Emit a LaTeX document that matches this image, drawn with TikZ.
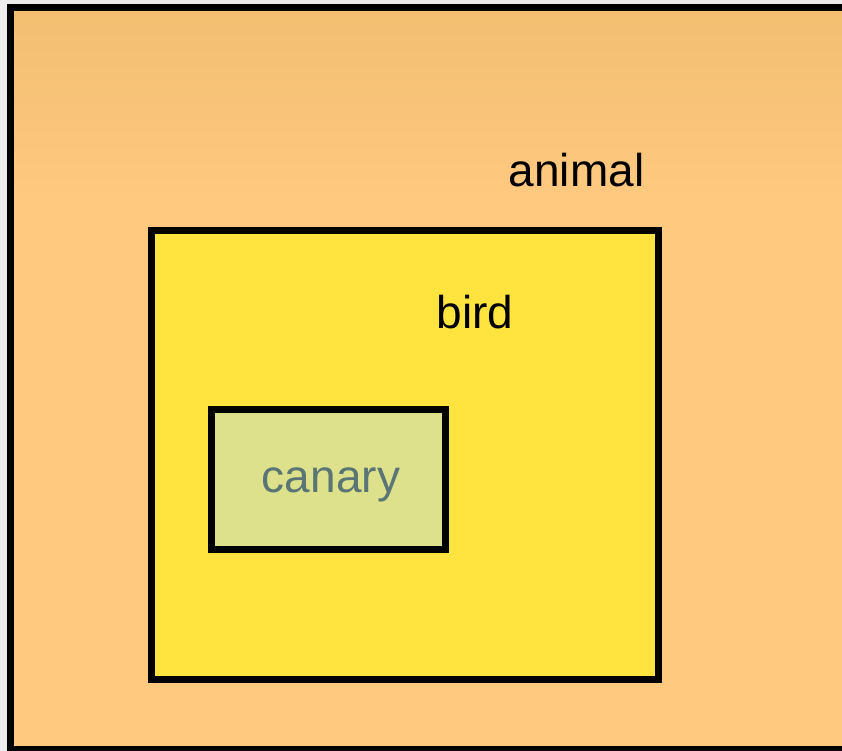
\documentclass[tikz,border=0pt]{standalone}
\usepackage{fontspec}
\setmainfont{Liberation Sans}
\usetikzlibrary{positioning}

\definecolor{animalTop}{HTML}{F2BE70}
\definecolor{animalBot}{HTML}{FFC980}
\definecolor{birdFill}{HTML}{FFE43F}
\definecolor{canaryFill}{HTML}{DDE18C}
\definecolor{canaryText}{HTML}{5B7575}
\pgfdeclareverticalshading{animalshade}{100bp}{color(0bp)=(animalBot); color(62bp)=(animalBot); color(75bp)=(animalTop); color(100bp)=(animalTop)}

\begin{document}
\begin{tikzpicture}[x=1pt,y=-1pt,
    set/.style={draw=black,line width=7pt,rectangle,inner sep=0pt,outer sep=0pt},
    lbl/.style={anchor=base,inner sep=0pt,font=\fontsize{46}{50}\selectfont}]
  \useasboundingbox[fill=black!7] (0,0) rectangle (842,751);
  \node[set,shading=animalshade,minimum width=839.5pt,minimum height=742pt] (animal) at (430.25,378.5) {};
  \node[set,fill=birdFill,minimum width=506.5pt,minimum height=448.5pt] (bird) at (404.75,454.75) {};
  \node[set,fill=canaryFill,minimum width=234.5pt,minimum height=140pt] (canary) at (328.25,479) {};
  \node[lbl] (animal-l) at (576.5,187) {animal};
  \node[lbl] (bird-l) at (475,328) {bird};
  \node[lbl,text=canaryText] (canary-l) at (331,492) {canary};
\end{tikzpicture}
\end{document}
